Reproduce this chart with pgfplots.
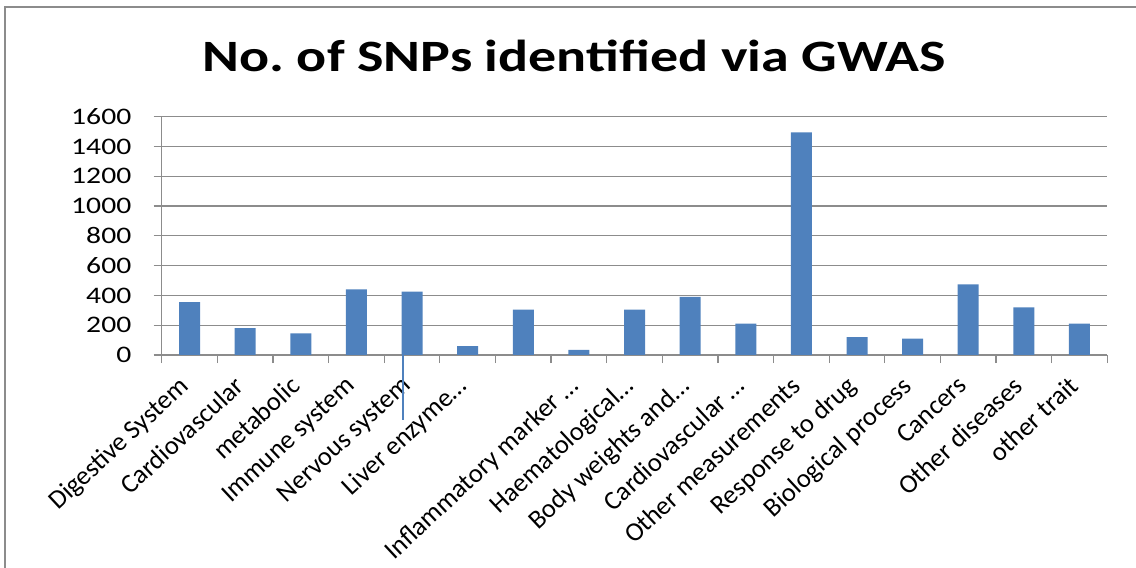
\documentclass[border=0pt]{standalone}
\usepackage{pgfplots}
\pgfplotsset{compat=1.18}
\usepackage{fontspec}
\setmainfont{Carlito}
\frenchspacing
\definecolor{barblue}{HTML}{4F81BD}
\definecolor{gridgray}{HTML}{8C8C8C}
\begin{document}
\begin{tikzpicture}[x=1pt,y=1pt]
\useasboundingbox (0pt,0pt) rectangle (1136pt,568pt);
\draw[gridgray, line width=1.5pt] (5pt,0pt) -- (5pt,561pt) -- (1136pt,561pt);
\node[anchor=base, xscale=1.25, inner sep=0pt, font=\fontsize{44.8}{50}\selectfont\bfseries] at (574pt,496.3pt) {No.\ of SNPs identified via GWAS};
\begin{axis}[
  at={(161.7pt,213pt)}, anchor=south west,
  scale only axis, width=945.6pt, height=238.3pt,
  xmin=-0.5, xmax=16.5, ymin=0, ymax=1600,
  ybar, bar width=21pt,
  ytick={0,200,...,1600},
  ymajorgrids, grid style={gridgray, line width=1.2pt},
  axis x line*=bottom, axis y line*=left,
  axis line style={gridgray, line width=1.2pt},
  tick style={gridgray, line width=1.2pt},
  tick align=outside, major tick length=8pt,
  scaled ticks=false,
  xtick={-0.5,0.5,...,16.5}, xticklabels={},
  extra x ticks={0,1,...,16},
  extra x tick labels={Digestive System,Cardiovascular,metabolic,Immune system,Nervous system,Liver enzyme…,{},Inflammatory marker …,Haematological…,Body weights and…,Cardiovascular …,Other measurements,Response to drug,Biological process,Cancers,Other diseases,other trait},
  extra x tick style={major tick length=0pt, tick style={draw=none},
     xticklabel style={xshift=-12pt, yshift=-18pt, anchor=north east, rotate=43, inner sep=1pt, font=\fontsize{26.5}{30}\selectfont, text=black}},
  yticklabel style={xshift=-18pt, xscale=1.25, font=\fontsize{23.7}{28}\selectfont, text=black,
     /pgf/number format/assume math mode=true, /pgf/number format/1000 sep={}},
]
\addplot[fill=barblue, draw=none] coordinates {
(0,355) (1,180) (2,145) (3,440) (4,425) (5,60) (6,305) (7,35) (8,305)
(9,390) (10,210) (11,1495) (12,120) (13,110) (14,475) (15,320) (16,210)};
\end{axis}
\draw[barblue, line width=1.5pt] (403pt,213pt) -- (403pt,148pt);
\end{tikzpicture}
\end{document}
